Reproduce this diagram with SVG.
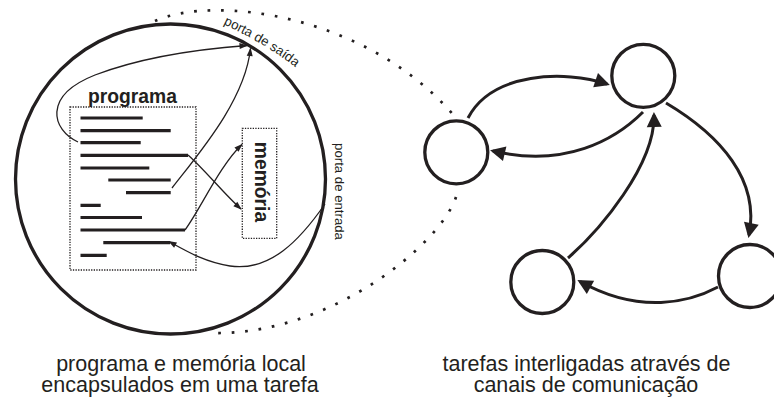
<svg xmlns="http://www.w3.org/2000/svg" width="774" height="399" viewBox="0 0 774 399">
  <style>
    .ink { stroke: #231f20; fill: none; }
    .ring { stroke: #231f20; stroke-width: 3.3; fill: none; }
    .code { stroke: #231f20; stroke-width: 3.2; fill: none; }
    .frame { stroke: #231f20; stroke-width: 1.3; fill: none; stroke-dasharray: 1.3 1.3; }
    .zoom { stroke: #231f20; stroke-width: 2.7; fill: none; stroke-dasharray: 2.7 10.8; }
    .thin { stroke: #231f20; stroke-width: 1.3; fill: none; marker-end: url(#ah-sm); }
    .thick { stroke: #231f20; stroke-width: 3; fill: none; marker-end: url(#ah-lg); }
    .label { font-family: "Liberation Sans", Arial, sans-serif; fill: #231f20; }
    .bold { font-weight: bold; font-size: 19.3px; }
    .port { font-size: 13.2px; }
    .caption { font-size: 21.5px; text-anchor: middle; }
  </style>
  <defs>
    <marker id="ah-sm" markerUnits="userSpaceOnUse" markerWidth="10" markerHeight="8" refX="7.5" refY="3" orient="auto" overflow="visible">
      <path d="M0,0 L8.5,3 L0,6 z" fill="#231f20"/>
    </marker>
    <marker id="ah-lg" markerUnits="userSpaceOnUse" markerWidth="16" markerHeight="16" refX="12" refY="7.5" orient="auto" overflow="visible">
      <path d="M0,0 L15,7.5 L0,15 z" fill="#231f20"/>
    </marker>
    <path id="exit-arc" d="M223,24 Q274,48 302,73"/>
  </defs>

  <!-- dotted lines opening the task out into the network -->
  <g id="zoom-lines">
    <path class="zoom" d="M155,21 C 215,-6 370,15 456,118"/>
    <path class="zoom" d="M456,197 C 440,245 330,335 213,333"/>
  </g>

  <!-- one task: program and local memory -->
  <g id="task">
    <circle class="ring" cx="170.5" cy="179" r="155"/>
    <text class="label port"><textPath href="#exit-arc">porta de saída</textPath></text>
    <text class="label port" transform="translate(335,191.5) rotate(90)" text-anchor="middle">porta de entrada</text>
  </g>

  <g id="programa">
    <rect class="frame" x="70" y="107" width="126" height="163"/>
    <text class="label bold" x="88" y="102.7">programa</text>
    <path class="code" d="M80.5,118 H142.7 M80.5,130.7 H170.7 M80.5,142.7 H140.7 M80.5,155.3 H188 M80.5,168 H149.3 M108.3,180 H170.7 M126,192.7 H170.7 M80.5,205.3 H100.7 M80.5,217.5 H142 M80.5,230 H185 M103.3,242.7 H170 M80.5,255.3 H106.7"/>
  </g>

  <g id="memoria">
    <rect class="frame" x="242.3" y="128.3" width="34.4" height="110"/>
    <text class="label bold" transform="translate(254.5,182) rotate(90)" text-anchor="middle">memória</text>
  </g>

  <!-- data flow inside the task -->
  <g id="flows">
    <path class="thin" d="M78,142 C 52,130 42,96 95,75 C 145,56 200,49 247,45.5"/>
    <path class="thin" d="M172,188 C 200,152 245,100 250.5,48.5"/>
    <path class="thin" d="M188,155 C 205,170 225,195 241,209"/>
    <path class="thin" d="M185,230 C 200,210 220,165 242,144.5"/>
    <path class="thin" d="M325,204 C 300,240 270,272 230,266 C 205,262 188,252 169,241.5"/>
  </g>

  <!-- task network -->
  <g id="t1"><circle class="ring" cx="456.3" cy="152.3" r="31.5"/></g>
  <g id="t2"><circle class="ring" cx="643.3" cy="75.8" r="31.5"/></g>
  <g id="t3"><circle class="ring" cx="542.3" cy="282" r="31.5"/></g>
  <g id="t4"><circle class="ring" cx="750" cy="276" r="31.5"/></g>

  <g id="channels">
    <path class="thick" d="M468,118 C 492,72 565,70 607,84"/>
    <path class="thick" d="M643,112 C 615,140 565,168 493,151"/>
    <path class="thick" d="M666,103 C 720,135 760,180 749,235"/>
    <path class="thick" d="M718,287 C 690,302 640,315 580,281.5"/>
    <path class="thick" d="M568,258 C 600,230 655,165 654,115"/>
  </g>

  <g id="captions">
    <text class="label caption" x="181" y="370.5">programa e memória local</text>
    <text class="label caption" x="180" y="392">encapsulados em uma tarefa</text>
    <text class="label caption" x="586.5" y="370.5">tarefas interligadas através de</text>
    <text class="label caption" x="586" y="392">canais de comunicação</text>
  </g>
</svg>
